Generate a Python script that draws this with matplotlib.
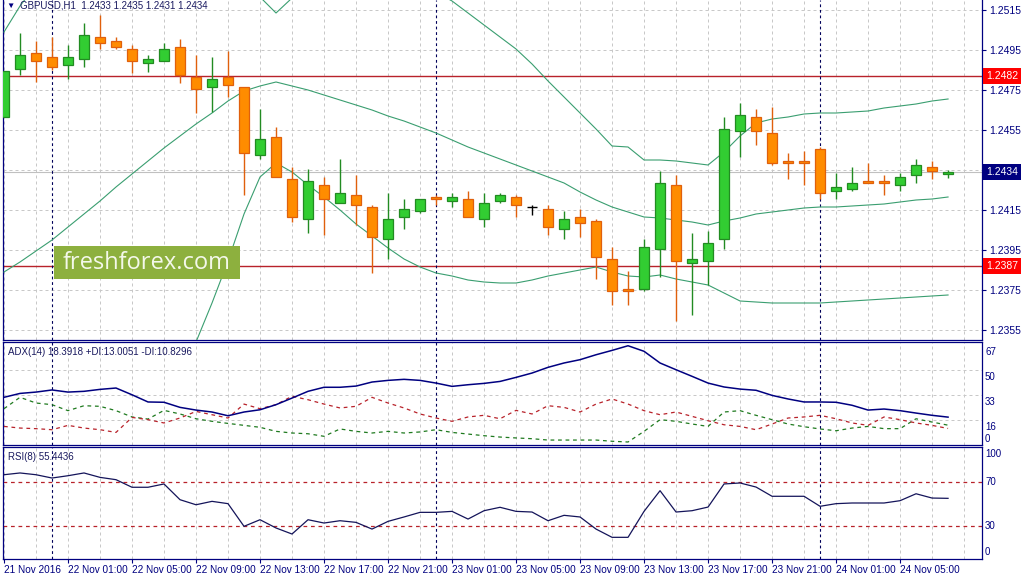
import matplotlib
matplotlib.use('Agg')
import matplotlib.pyplot as plt
from matplotlib.patches import Rectangle

# GBPUSD H1, 21 Nov 2016 21:00 .. 24 Nov 2016 08:00
opens = [1.24615, 1.24855, 1.24935, 1.24915, 1.24875, 1.24905, 1.25015, 1.24995, 1.24955, 1.24885,
         1.24895, 1.24965, 1.24815, 1.24765, 1.24815, 1.24765, 1.24425, 1.24515, 1.24305, 1.24105,
         1.24275, 1.24185, 1.24225, 1.24165, 1.24005, 1.24115, 1.24145, 1.24215, 1.24195, 1.24205,
         1.24105, 1.24195, 1.24215, 1.24165, 1.24155, 1.24055, 1.24115, 1.24095, 1.23905, 1.23755,
         1.23755, 1.23955, 1.24275, 1.23885, 1.23895, 1.24005, 1.24545, 1.24615, 1.24535, 1.24395,
         1.24395, 1.24455, 1.24245, 1.24255, 1.24295, 1.24295, 1.24275, 1.24325, 1.24365, 1.24330]
highs = [1.24845, 1.25035, 1.24995, 1.25015, 1.24975, 1.25085, 1.25125, 1.25015, 1.24975, 1.24925,
         1.24985, 1.25005, 1.24925, 1.24915, 1.24945, 1.24765, 1.24655, 1.24565, 1.24365, 1.24355,
         1.24315, 1.24405, 1.24325, 1.24175, 1.24235, 1.24205, 1.24205, 1.24225, 1.24235, 1.24245,
         1.24235, 1.24235, 1.24225, 1.24175, 1.24175, 1.24145, 1.24155, 1.24105, 1.23965, 1.23845,
         1.24005, 1.24345, 1.24325, 1.24035, 1.24045, 1.24615, 1.24685, 1.24655, 1.24665, 1.24435,
         1.24445, 1.24465, 1.24335, 1.24365, 1.24385, 1.24325, 1.24335, 1.24405, 1.24395, 1.24350]
lows = [1.24615, 1.24825, 1.24790, 1.24850, 1.24805, 1.24865, 1.24955, 1.24955, 1.24835, 1.24840,
        1.24895, 1.24785, 1.24635, 1.24640, 1.24715, 1.24225, 1.24405, 1.24315, 1.24090, 1.24035,
        1.24025, 1.24185, 1.24075, 1.23835, 1.23905, 1.24055, 1.24135, 1.24175, 1.24165, 1.24115,
        1.24065, 1.24185, 1.24115, 1.24125, 1.24025, 1.24005, 1.24015, 1.23805, 1.23675, 1.23675,
        1.23745, 1.23815, 1.23595, 1.23625, 1.23775, 1.23955, 1.24415, 1.24475, 1.24375, 1.24305,
        1.24275, 1.24205, 1.24205, 1.24245, 1.24285, 1.24225, 1.24245, 1.24285, 1.24305, 1.24310]
closes = [1.24845, 1.24925, 1.24895, 1.24865, 1.24915, 1.25025, 1.24985, 1.24965, 1.24895, 1.24905,
          1.24955, 1.24825, 1.24755, 1.24805, 1.24775, 1.24435, 1.24505, 1.24315, 1.24115, 1.24295,
          1.24205, 1.24235, 1.24175, 1.24015, 1.24105, 1.24155, 1.24205, 1.24205, 1.24215, 1.24115,
          1.24185, 1.24225, 1.24175, 1.24165, 1.24065, 1.24105, 1.24085, 1.23915, 1.23745, 1.23745,
          1.23965, 1.24285, 1.23895, 1.23905, 1.23985, 1.24555, 1.24625, 1.24545, 1.24385, 1.24385,
          1.24385, 1.24235, 1.24265, 1.24285, 1.24285, 1.24285, 1.24315, 1.24375, 1.24345, 1.24340]

# Bollinger bands
bb_upper = [1.25040, 1.25170, 1.25275, 1.25350, 1.25415, 1.25470, 1.25520, 1.25565, 1.25590, 1.25620,
            1.25650, 1.25670, 1.25670, 1.25585, 1.25495, 1.25360, 1.25215, 1.25135, 1.25210, 1.25275,
            1.25325, 1.25350, 1.25360, 1.25365, 1.25360, 1.25340, 1.25300, 1.25240, 1.25195, 1.25135,
            1.25075, 1.25015, 1.24955, 1.24880, 1.24795, 1.24715, 1.24635, 1.24555, 1.24470, 1.24465,
            1.24400, 1.24400, 1.24395, 1.24385, 1.24375, 1.24440, 1.24520, 1.24585, 1.24605, 1.24615,
            1.24630, 1.24635, 1.24635, 1.24640, 1.24645, 1.24660, 1.24670, 1.24680, 1.24695, 1.24705]
bb_mid = [1.23840, 1.23890, 1.23945, 1.24000, 1.24065, 1.24130, 1.24195, 1.24265, 1.24330, 1.24395,
          1.24460, 1.24520, 1.24580, 1.24635, 1.24695, 1.24745, 1.24770, 1.24790, 1.24770, 1.24750,
          1.24725, 1.24700, 1.24675, 1.24650, 1.24620, 1.24595, 1.24565, 1.24535, 1.24500, 1.24465,
          1.24435, 1.24405, 1.24375, 1.24345, 1.24315, 1.24285, 1.24240, 1.24200, 1.24165, 1.24140,
          1.24115, 1.24110, 1.24100, 1.24090, 1.24075, 1.24095, 1.24110, 1.24130, 1.24140, 1.24150,
          1.24160, 1.24165, 1.24165, 1.24170, 1.24175, 1.24180, 1.24190, 1.24200, 1.24205, 1.24215]
bb_lower = [1.22640, 1.22610, 1.22615, 1.22650, 1.22715, 1.22790, 1.22870, 1.22965, 1.23070, 1.23170,
            1.23270, 1.23370, 1.23490, 1.23685, 1.23895, 1.24130, 1.24315, 1.24385, 1.24340, 1.24275,
            1.24215, 1.24150, 1.24080, 1.24020, 1.23960, 1.23905, 1.23865, 1.23835, 1.23820, 1.23800,
            1.23790, 1.23785, 1.23785, 1.23800, 1.23820, 1.23835, 1.23850, 1.23865, 1.23840, 1.23820,
            1.23815, 1.23825, 1.23805, 1.23790, 1.23775, 1.23735, 1.23695, 1.23690, 1.23685, 1.23685,
            1.23685, 1.23685, 1.23690, 1.23695, 1.23700, 1.23705, 1.23710, 1.23715, 1.23720, 1.23725]

adx = [31.6, 34.2, 35.1, 36.5, 35.1, 35.6, 36.9, 37.8, 33.3, 28.5,
       28.3, 24.9, 23.1, 21.8, 19.3, 21.8, 23.3, 26.7, 31.1, 35.6,
       38.3, 38.3, 39.1, 41.8, 42.9, 43.6, 42.9, 41.1, 38.9, 40.0,
       40.9, 42.2, 44.9, 47.8, 51.6, 54.5, 56.7, 60.0, 62.9, 66.0,
       62.3, 54.5, 50.0, 45.6, 41.1, 38.5, 37.1, 36.3, 32.9, 30.5,
       28.5, 28.5, 28.3, 26.3, 23.1, 23.8, 22.7, 21.1, 19.6, 18.39]
plus_di = [24.0, 31.6, 27.8, 26.7, 22.7, 26.0, 25.6, 22.7, 18.5, 17.1,
           22.9, 20.5, 17.3, 15.6, 14.2, 12.9, 11.6, 8.9, 7.8, 7.3,
           5.6, 10.5, 8.9, 7.8, 8.9, 7.8, 8.5, 10.0, 8.2, 7.1,
           6.0, 5.1, 4.5, 4.0, 3.1, 3.1, 3.1, 3.1, 2.3, 1.8,
           8.9, 16.7, 15.6, 13.8, 12.2, 21.8, 22.7, 19.6, 16.7, 13.8,
           12.0, 10.5, 9.3, 11.1, 12.2, 10.7, 10.7, 17.3, 15.1, 13.01]
minus_di = [12.2, 11.1, 10.7, 10.0, 12.9, 11.1, 10.0, 8.2, 18.2, 16.7,
            14.5, 17.8, 22.2, 20.0, 17.8, 27.1, 24.0, 26.7, 32.3, 30.0,
            27.1, 24.5, 25.6, 31.6, 27.8, 24.5, 20.5, 17.8, 15.6, 18.5,
            19.6, 17.3, 22.9, 20.5, 26.0, 24.9, 21.8, 27.1, 30.5, 27.1,
            22.7, 20.0, 21.8, 18.9, 16.0, 13.3, 12.2, 10.0, 13.8, 17.8,
            18.5, 19.6, 17.3, 14.5, 12.9, 18.5, 16.7, 14.5, 12.9, 10.83]
rsi = [76.9, 78.5, 76.9, 73.9, 76.0, 78.5, 74.5, 72.4, 65.5, 65.5,
       68.5, 54.2, 49.6, 52.7, 50.6, 30.0, 36.0, 28.5, 23.0, 36.0,
       33.0, 35.1, 33.6, 27.5, 34.5, 38.5, 42.7, 42.7, 43.6, 36.6,
       44.2, 47.3, 43.6, 43.0, 35.1, 40.0, 38.5, 27.5, 20.0, 20.0,
       43.6, 62.4, 43.0, 44.2, 47.5, 68.5, 69.4, 65.7, 57.3, 57.3,
       57.3, 48.2, 50.6, 51.2, 51.2, 51.2, 53.3, 59.6, 55.7, 55.44]

time_labels = ['21 Nov 2016', '22 Nov 01:00', '22 Nov 05:00', '22 Nov 09:00', '22 Nov 13:00',
               '22 Nov 17:00', '22 Nov 21:00', '23 Nov 01:00', '23 Nov 05:00', '23 Nov 09:00',
               '23 Nov 13:00', '23 Nov 17:00', '23 Nov 21:00', '24 Nov 01:00', '24 Nov 05:00']
day_breaks = [3, 27, 51]
price_ticks = [1.2355, 1.2375, 1.2395, 1.2415, 1.2435, 1.2455, 1.2475, 1.2495, 1.2515]
levels = [1.2482, 1.2387]
bid = 1.2434

W, H = 1023, 577
NAVY = '#000080'
SEP = '#00005a'
GRID = '#c8c8c8'
RED = '#b8222a'
BB = '#3a9e70'
BULL_FILL, BULL_EDGE = '#32cd32', '#228b22'
BEAR_FILL, BEAR_EDGE = '#ff8c00', '#e0600c'
PX = 0.72  # one pixel in points

plt.rcParams['font.family'] = ['Liberation Sans', 'DejaVu Sans']
plt.rcParams['font.size'] = 7

fig = plt.figure(figsize=(W / 100, H / 100), dpi=100)
fig.patch.set_facecolor('white')


def px_rect(x0, y0, x1, y1):
    return [x0 / W, 1 - y1 / H, (x1 - x0) / W, (y1 - y0) / H]


ax = fig.add_axes(px_rect(3, 0, 981.5, 340))
ax_adx = fig.add_axes(px_rect(3, 342, 981.5, 445))
ax_rsi = fig.add_axes(px_rect(3, 447, 981.5, 559))

n = len(closes)
xs = list(range(n))

for a in (ax, ax_adx, ax_rsi):
    a.set_xlim(-0.0625, 61.09)
    for s in a.spines.values():
        s.set_color(NAVY)
        s.set_linewidth(0.9)
    for b in range(0, 62, 2):
        a.axvline(b, color=GRID, lw=PX, ls=(0, (3, 3)), zorder=0.5)
    for b in day_breaks:
        a.axvline(b, color=SEP, lw=0.8, ls=(0, (2.5, 2.5)), zorder=2.5)
    a.tick_params(axis='x', bottom=False, labelbottom=False)
    a.tick_params(axis='y', left=False, labelleft=False)
ax.spines['top'].set_visible(False)

# ---- price panel
ax.set_ylim(1.2350, 1.2520)
for p in price_ticks:
    ax.axhline(p, color=GRID, lw=PX, ls=(0, (3, 3)), zorder=0.5)
ax.yaxis.tick_right()
ax.set_yticks(price_ticks)
ax.set_yticklabels(['' if abs(p - 1.2435) < 1e-6 else f'{p:.4f}' for p in price_ticks])
ax.tick_params(axis='y', right=True, labelright=True, direction='out', length=3,
               width=0.8, colors=NAVY, labelsize=7.5, pad=2.5)

ax.axhline(bid, color='#c0c0c0', lw=0.8, zorder=1)
for lv in levels:
    ax.axhline(lv, color=RED, lw=1.0, zorder=2)
    ax.text(1.0047, lv, f'{lv:.4f}', transform=ax.get_yaxis_transform(), color='white',
            fontsize=7.5, ha='left', va='center', clip_on=False, zorder=6,
            bbox=dict(boxstyle='square,pad=0.28', fc='#ff0000', ec='none'))
ax.text(1.0047, bid, f'{bid:.4f}', transform=ax.get_yaxis_transform(), color='white',
        fontsize=7.5, ha='left', va='center', clip_on=False, zorder=6,
        bbox=dict(boxstyle='square,pad=0.28', fc=NAVY, ec='none'))

ax.plot(xs, bb_upper, color=BB, lw=0.8, zorder=3)
ax.plot(xs, bb_mid, color=BB, lw=0.8, zorder=3)
ax.plot(xs, bb_lower, color=BB, lw=0.8, zorder=3)

half = 0.31
for i in range(n):
    o, h, l, c = opens[i], highs[i], lows[i], closes[i]
    if c > o:
        fill, edge = BULL_FILL, BULL_EDGE
    elif c < o:
        fill, edge = BEAR_FILL, BEAR_EDGE
    else:
        fill, edge = None, 'black'
    ax.vlines(i, l, h, color=edge, lw=1.0, zorder=4)
    if fill is None:
        ax.hlines(o, i - half, i + half, color=edge, lw=1.0, zorder=5)
    else:
        ax.add_patch(Rectangle((i - half, min(o, c)), 2 * half, abs(c - o),
                               fc=fill, ec=edge, lw=0.9, zorder=5))

# ---- ADX panel
ax_adx.set_ylim(-0.2, 68.5)
for v in (50 / 3, 100 / 3, 50):
    ax_adx.axhline(v, color=GRID, lw=PX, ls=(0, (3, 3)), zorder=0.5)
ax_adx.plot(xs, plus_di, color='#1f7a1f', lw=0.9, ls=(0, (3, 3)), zorder=3)
ax_adx.plot(xs, minus_di, color=RED, lw=0.9, ls=(0, (3, 3)), zorder=3)
ax_adx.plot(xs, adx, color=NAVY, lw=1.1, zorder=4)
ty = ax_adx.get_yaxis_transform()
for v, lab in ((66.7, '67'), (50, '50'), (100 / 3, '33'), (50 / 3, '16')):
    ax_adx.text(1.0036, v - 1.6, lab, transform=ty, color=NAVY, fontsize=7,
                ha='left', va='top', clip_on=False)
ax_adx.text(1.0036, 0.8, '0', transform=ty, color=NAVY, fontsize=7,
            ha='left', va='bottom', clip_on=False)

# ---- RSI panel
ax_rsi.set_ylim(0.3, 102.1)
for v in (70, 30):
    ax_rsi.axhline(v, color=RED, lw=0.9, ls=(0, (3, 3)), zorder=2)
ax_rsi.plot(xs, rsi, color='#14145a', lw=0.9, zorder=4)
ty = ax_rsi.get_yaxis_transform()
ax_rsi.text(1.0036, 100, '100', transform=ty, color=NAVY, fontsize=7, ha='left', va='top', clip_on=False)
ax_rsi.text(1.0036, 70, '70', transform=ty, color=NAVY, fontsize=7, ha='left', va='center', clip_on=False)
ax_rsi.text(1.0036, 30, '30', transform=ty, color=NAVY, fontsize=7, ha='left', va='center', clip_on=False)
ax_rsi.text(1.0036, 2, '0', transform=ty, color=NAVY, fontsize=7, ha='left', va='bottom', clip_on=False)

ax_rsi.set_xticks(list(range(0, 4 * len(time_labels), 4)))
ax_rsi.set_xticklabels(time_labels)
ax_rsi.tick_params(axis='x', bottom=True, labelbottom=True, direction='out', length=3,
                   width=0.8, colors=NAVY, labelsize=7.2, pad=1.5)
for tl in ax_rsi.get_xticklabels():
    tl.set_horizontalalignment('left')

# ---- captions
fig.text(10 / W, 1 - 6 / H, '\u25bc', color=NAVY, fontsize=6, ha='center', va='center')
fig.text(20 / W, 1 - 6 / H, 'GBPUSD,H1  1.2433 1.2435 1.2431 1.2434', color='#1a1a60',
         fontsize=7, ha='left', va='center')
fig.text(8 / W, 1 - 352 / H, 'ADX(14) 18.3918 +DI:13.0051 -DI:10.8296', color='#1a1a60',
         fontsize=7, ha='left', va='center')
fig.text(8 / W, 1 - 457 / H, 'RSI(8) 55.4436', color='#1a1a60', fontsize=7, ha='left', va='center')

# watermark
fig.patches.append(Rectangle((54 / W, 1 - 279 / H), 186 / W, 33 / H, transform=fig.transFigure,
                             fc='#8db03e', ec='none', zorder=8))
fig.text(147 / W, 1 - 263 / H, 'freshforex.com', color='#f4f8ea', fontsize=17,
         family='Open Sans', ha='center', va='center', zorder=9)

fig.savefig('out.png', dpi=100)
